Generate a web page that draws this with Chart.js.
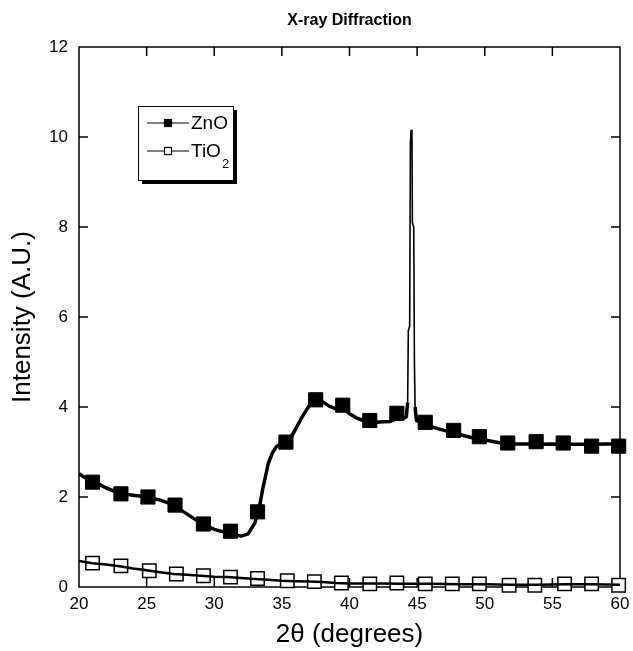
<!DOCTYPE html>
<html>
<head>
<meta charset="utf-8">
<title>X-ray Diffraction</title>
<script src="https://cdn.jsdelivr.net/npm/chart.js@4"></script>
<style>
  html, body { margin: 0; padding: 0; background: #fff; }
  #wrap { width: 633px; height: 651px; }
</style>
</head>
<body>
<div id="wrap"><canvas id="xrd" width="633" height="651"></canvas></div>
<script>
// ZnO trace: 2θ (degrees) and intensity (A.U.)
const znoAngle = [
  20.0, 20.5, 21.0, 21.5, 22.0, 22.5, 23.0, 23.5, 24.0, 24.5,
  25.0, 25.5, 26.0, 26.5, 27.0, 27.5, 28.0, 28.5, 29.0, 29.5,
  30.0, 30.5, 31.0, 31.5, 32.0, 32.5, 33.0, 33.3, 33.6, 34.0,
  34.3, 34.6, 35.0, 35.5, 36.0, 36.5, 37.0, 37.5, 38.0, 38.5,
  39.0, 39.5, 40.0, 40.5, 41.0, 41.5, 42.0, 42.5, 43.0, 43.5,
  44.0, 44.2, 44.3, 44.35, 44.45, 44.5, 44.55, 44.62, 44.65, 44.75,
  44.8, 44.85, 44.95, 45.5, 46.0, 46.5, 47.0, 47.5, 48.0, 48.5,
  49.0, 49.5, 50.0, 50.5, 51.0, 51.5, 52.0, 53.0, 54.0, 55.0,
  56.0, 57.0, 58.0, 59.0, 60.0
];
const znoIntensity = [
  2.52, 2.42, 2.35, 2.28, 2.20, 2.14, 2.08, 2.06, 2.04, 2.02,
  2.00, 1.97, 1.93, 1.88, 1.82, 1.72, 1.62, 1.52, 1.42, 1.35,
  1.28, 1.24, 1.22, 1.16, 1.13, 1.18, 1.42, 1.72, 2.20, 2.75,
  2.98, 3.12, 3.20, 3.24, 3.50, 3.78, 4.02, 4.15, 4.12, 4.02,
  3.96, 3.98, 3.85, 3.76, 3.70, 3.68, 3.66, 3.67, 3.68, 3.74,
  3.75, 3.78, 4.10, 5.70, 5.80, 9.80, 10.15, 10.10, 8.10, 8.00,
  5.00, 4.00, 3.70, 3.62, 3.57, 3.52, 3.48, 3.44, 3.40, 3.36,
  3.32, 3.30, 3.27, 3.24, 3.21, 3.19, 3.18, 3.18, 3.17, 3.18,
  3.17, 3.17, 3.17, 3.18, 3.18
];

// TiO2 trace
const tio2Angle = [
  20, 21, 22, 23, 24, 25, 26, 27, 28, 29,
  30, 31, 32, 33, 34, 35, 36, 37, 38, 39,
  40, 42, 44, 46, 48, 50, 52, 54, 56, 58, 60
];
const tio2Intensity = [
  0.58, 0.53, 0.50, 0.46, 0.41, 0.37, 0.33, 0.29, 0.27, 0.25,
  0.23, 0.22, 0.20, 0.18, 0.16, 0.14, 0.13, 0.12, 0.11, 0.09,
  0.08, 0.08, 0.07, 0.07, 0.06, 0.06, 0.05, 0.05, 0.06, 0.06, 0.05
];

// Symbol positions along each trace
const znoMarkerAngle = [
  21.0, 23.1, 25.1, 27.1, 29.2, 31.2, 33.2, 35.3, 37.5, 39.5,
  41.5, 43.5, 45.6, 47.7, 49.6, 51.7, 53.8, 55.8, 57.9, 59.9
];
const znoMarkerIntensity = [
  2.33, 2.07, 2.00, 1.82, 1.40, 1.24, 1.67, 3.22, 4.16, 4.04,
  3.70, 3.86, 3.66, 3.48, 3.34, 3.20, 3.23, 3.20, 3.13, 3.13
];
const tio2MarkerAngle = [
  21.0, 23.1, 25.2, 27.2, 29.2, 31.2, 33.2, 35.4, 37.4, 39.4,
  41.5, 43.5, 45.6, 47.6, 49.6, 51.8, 53.7, 55.9, 57.9, 59.9
];
const tio2MarkerIntensity = [
  0.53, 0.47, 0.36, 0.29, 0.25, 0.22, 0.19, 0.14, 0.12, 0.09,
  0.07, 0.09, 0.07, 0.07, 0.07, 0.04, 0.04, 0.07, 0.07, 0.04
];

// Axis ticks
const xTickValues = [20, 25, 30, 35, 40, 45, 50, 55, 60];
const yTickValues = [0, 2, 4, 6, 8, 10, 12];

const FONT = '"Liberation Sans", Arial, sans-serif';
const toPoints = (xs, ys) => xs.map((x, i) => ({ x, y: ys[i] }));
const fixedTicks = values => scale => { scale.ticks = values.map(v => ({ value: v })); };

// Plot frame with inward tick marks on all four sides
const frameTicks = {
  id: 'frameTicks',
  beforeDatasetsDraw(chart) {
    const { ctx, chartArea: a, scales: { x, y } } = chart;
    const len = 9;
    ctx.save();
    ctx.strokeStyle = '#000';
    ctx.lineWidth = 1.5;
    ctx.strokeRect(a.left, a.top, a.right - a.left, a.bottom - a.top);
    ctx.beginPath();
    x.ticks.forEach(t => {
      const px = x.getPixelForValue(t.value);
      if (px <= a.left + 1 || px >= a.right - 1) return;
      ctx.moveTo(px, a.bottom); ctx.lineTo(px, a.bottom - len);
      ctx.moveTo(px, a.top); ctx.lineTo(px, a.top + len);
    });
    y.ticks.forEach(t => {
      const py = y.getPixelForValue(t.value);
      if (py <= a.top + 1 || py >= a.bottom - 1) return;
      ctx.moveTo(a.left, py); ctx.lineTo(a.left + len, py);
      ctx.moveTo(a.right, py); ctx.lineTo(a.right - len, py);
    });
    ctx.stroke();
    ctx.restore();
  }
};

// Boxed legend with a drop shadow
const boxLegend = {
  id: 'boxLegend',
  afterDraw(chart) {
    const { ctx } = chart;
    const bx = 138, by = 106, bw = 95, bh = 74;
    ctx.save();
    ctx.fillStyle = '#000';
    ctx.fillRect(bx + 4, by + 4, bw, bh);
    ctx.fillStyle = '#fff';
    ctx.fillRect(bx, by, bw, bh);
    ctx.strokeStyle = '#000';
    ctx.lineWidth = 1;
    ctx.strokeRect(bx + 0.5, by + 0.5, bw, bh);

    const rows = [
      { y: 123, fill: '#000', label: 'ZnO', sub: '' },
      { y: 151, fill: '#fff', label: 'TiO', sub: '2' }
    ];
    rows.forEach(r => {
      ctx.beginPath();
      ctx.lineWidth = 1.2;
      ctx.moveTo(147, r.y); ctx.lineTo(189, r.y);
      ctx.stroke();
      ctx.fillStyle = r.fill;
      ctx.fillRect(164, r.y - 4, 8, 8);
      ctx.strokeRect(164.5, r.y - 3.5, 7, 7);
      ctx.fillStyle = '#000';
      ctx.font = '19px ' + FONT;
      ctx.textBaseline = 'middle';
      ctx.textAlign = 'left';
      ctx.fillText(r.label, 191, r.y + 1);
      if (r.sub) {
        const w = ctx.measureText(r.label).width;
        ctx.font = '13px ' + FONT;
        ctx.fillText(r.sub, 191 + w + 1, r.y + 13);
      }
    });
    ctx.restore();
  }
};

new Chart(document.getElementById('xrd'), {
  type: 'line',
  data: {
    datasets: [
      {
        label: 'TiO2',
        data: toPoints(tio2Angle, tio2Intensity),
        borderColor: '#000',
        borderWidth: 2.5,
        borderJoinStyle: 'round',
        pointRadius: 0,
        tension: 0
      },
      {
        label: 'ZnO',
        data: toPoints(znoAngle, znoIntensity),
        borderColor: '#000',
        borderWidth: 3.5,
        borderJoinStyle: 'round',
        pointRadius: 0,
        tension: 0,
        segment: {
          borderWidth: c => (c.p0.parsed.y > 4.5 || c.p1.parsed.y > 4.5) ? 1.6 : 3.5
        }
      },
      {
        label: 'TiO2 symbols',
        data: toPoints(tio2MarkerAngle, tio2MarkerIntensity),
        showLine: false,
        pointStyle: 'rect',
        pointRadius: 9.5,
        pointBorderWidth: 1.5,
        pointBorderColor: '#000',
        pointBackgroundColor: '#fff',
        clip: false
      },
      {
        label: 'ZnO symbols',
        data: toPoints(znoMarkerAngle, znoMarkerIntensity),
        showLine: false,
        pointStyle: 'rect',
        pointRadius: 10,
        pointBorderWidth: 1,
        pointBorderColor: '#000',
        pointBackgroundColor: '#000',
        clip: false
      }
    ]
  },
  options: {
    responsive: false,
    animation: false,
    events: [],
    layout: { padding: 0 },
    plugins: { legend: { display: false }, tooltip: { enabled: false }, title: { display: false } },
    scales: {
      x: {
        type: 'linear',
        position: 'bottom',
        min: 20, max: 60,
        afterBuildTicks: fixedTicks(xTickValues),
        afterFit: s => { s.height = 64; s.paddingLeft = 0; s.paddingRight = 0; },
        grid: { display: false, drawTicks: false },
        border: { display: false },
        ticks: { color: '#000', font: { family: FONT, size: 17 }, padding: 7, maxRotation: 0, autoSkip: false },
        title: { display: true, text: '2θ (degrees)', color: '#000', font: { family: FONT, size: 26 }, padding: { bottom: 1 } }
      },
      x2: {
        type: 'linear',
        position: 'top',
        min: 20, max: 60,
        afterFit: s => { s.height = 47; s.paddingLeft = 0; s.paddingRight = 0; },
        grid: { display: false, drawTicks: false },
        border: { display: false },
        ticks: { display: false },
        title: { display: true, text: 'X-ray Diffraction', color: '#000', font: { family: FONT, size: 16, weight: 'bold' }, padding: { top: 11 } }
      },
      y: {
        type: 'linear',
        position: 'left',
        min: 0, max: 12,
        afterBuildTicks: fixedTicks(yTickValues),
        afterFit: s => { s.width = 79; s.paddingTop = 0; s.paddingBottom = 0; },
        grid: { display: false, drawTicks: false },
        border: { display: false },
        ticks: { color: '#000', font: { family: FONT, size: 17 }, padding: 11 },
        title: { display: true, text: 'Intensity (A.U.)', color: '#000', font: { family: FONT, size: 26 }, padding: { top: 7 } }
      },
      y2: {
        type: 'linear',
        position: 'right',
        min: 0, max: 12,
        afterFit: s => { s.width = 13; s.paddingTop = 0; s.paddingBottom = 0; },
        grid: { display: false, drawTicks: false },
        border: { display: false },
        ticks: { display: false }
      }
    }
  },
  plugins: [frameTicks, boxLegend]
});
</script>
</body>
</html>
